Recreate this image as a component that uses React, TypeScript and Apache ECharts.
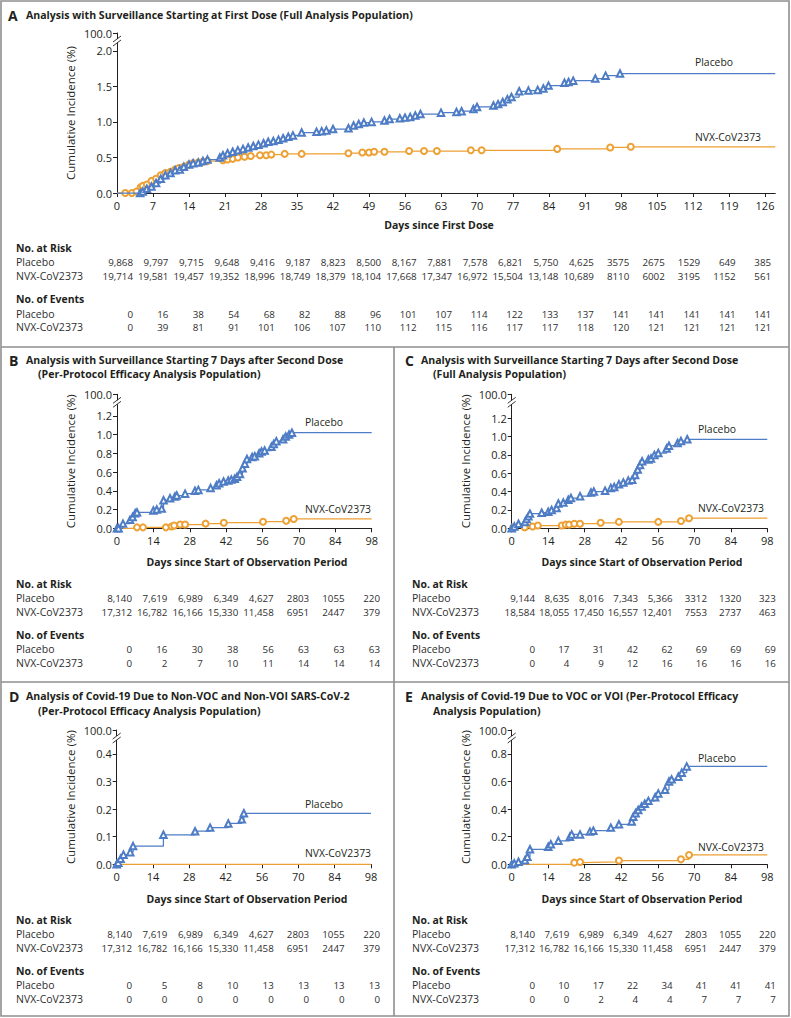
import React, { useEffect, useRef } from "react";
import * as echarts from "echarts";

const FONT = "'Open Sans', 'Noto Sans', 'DejaVu Sans', sans-serif";
const BLUE = "#4e7cc5";
const ORANGE = "#eda033";
const INK = "#231f20";
const TABLE_INK = "#2e2e2e";
const FRAME = "#8f8f8f";
const BREAK_LABEL = "100.0";

// ---------- tick values ----------
const daysA = [0, 7, 14, 21, 28, 35, 42, 49, 56, 63, 70, 77, 84, 91, 98, 105, 112, 119, 126];
const daysObs = [0, 14, 28, 42, 56, 70, 84, 98];
const pctTicksA = [0, 0.5, 1.0, 1.5, 2.0];
const pctTicksBC = [0, 0.2, 0.4, 0.6, 0.8, 1.0, 1.2];
const pctTicksD = [0, 0.1, 0.2, 0.3, 0.4];
const pctTicksE = [0, 0.2, 0.4, 0.6, 0.8];

// ---------- curves: [day, cumulative incidence %] ----------
const curveAPlacebo: number[][] = [
  [0, 0], [4.5, 0], [5, 0.02], [5.8, 0.06], [6.7, 0.09], [7.6, 0.14], [8.5, 0.2], [9.4, 0.25], [10.4, 0.28],
  [11.3, 0.32], [12.2, 0.33], [13, 0.37], [14, 0.4], [14.8, 0.42], [15.8, 0.43], [16.7, 0.45], [17.6, 0.47],
  [20, 0.5], [20.6, 0.53], [21.5, 0.56], [22.5, 0.58], [23.5, 0.6], [24.5, 0.62], [25.5, 0.64], [26.5, 0.66],
  [27.5, 0.68], [28.5, 0.7], [29.4, 0.72], [30.4, 0.73], [31.4, 0.75], [32.3, 0.77], [33.3, 0.79], [34.2, 0.81],
  [35.9, 0.85], [38.8, 0.86], [39.8, 0.87], [40.7, 0.88], [42, 0.9], [45, 0.91], [46, 0.95], [47, 0.97],
  [48, 0.99], [49.5, 1.0], [52, 1.02], [53, 1.04], [55, 1.05], [56, 1.06], [57, 1.07], [58, 1.09], [59, 1.11],
  [63, 1.13], [66, 1.14], [67, 1.15], [69.3, 1.18], [70, 1.21], [73.2, 1.23], [74.1, 1.25], [75, 1.28],
  [75.9, 1.32], [76.7, 1.35], [78.2, 1.43], [80, 1.44], [81.8, 1.45], [82.9, 1.47], [83.9, 1.51], [87, 1.55],
  [87.8, 1.56], [88.7, 1.58], [93, 1.61], [95, 1.65], [97.8, 1.68], [128, 1.68],
];
const curveANvx: number[][] = [
  [0, 0], [1.6, 0], [2.9, 0], [3.8, 0.02], [4.6, 0.08], [5, 0.1], [5.8, 0.12], [6.7, 0.17], [7.6, 0.2],
  [8.5, 0.25], [9.4, 0.28], [10.4, 0.3], [11.3, 0.33], [12, 0.35], [13, 0.37], [14, 0.4], [14.8, 0.42],
  [15.8, 0.43], [16.7, 0.44], [17.6, 0.45], [20.6, 0.46], [21.5, 0.47], [22.5, 0.48], [23.5, 0.5], [24.8, 0.51],
  [26, 0.52], [27.8, 0.53], [29, 0.53], [30, 0.54], [32.6, 0.55], [35.9, 0.55], [45, 0.56], [47.7, 0.57],
  [49, 0.57], [50, 0.58], [52, 0.58], [56.8, 0.59], [59.7, 0.59], [62.2, 0.59], [68.8, 0.6], [70.9, 0.6],
  [85.6, 0.62], [95.9, 0.64], [99.9, 0.65], [128, 0.65],
];
const curveBPlacebo: number[][] = [
  [0, 0], [0.6, 0], [2.3, 0.05], [5, 0.09], [6, 0.12], [7, 0.16], [7.7, 0.17], [14, 0.19], [15.3, 0.2],
  [17.2, 0.21], [17.9, 0.3], [20.4, 0.32], [22.3, 0.34], [23, 0.35], [26.2, 0.37], [30, 0.4], [31.3, 0.41],
  [36, 0.43], [38.3, 0.46], [39.3, 0.48], [41, 0.5], [42.8, 0.51], [44, 0.52], [45.3, 0.53], [46.2, 0.55],
  [47.3, 0.58], [48.3, 0.64], [49.2, 0.69], [50, 0.74], [52, 0.76], [53, 0.77], [54.7, 0.8], [55.6, 0.82],
  [56.8, 0.83], [59.4, 0.87], [60.3, 0.9], [61.3, 0.93], [63.9, 0.95], [64.9, 0.98], [66.2, 1.0], [67.3, 1.02],
  [98, 1.02],
];
const curveBNvx: number[][] = [
  [0, 0], [7.7, 0.01], [10, 0.01], [18.8, 0.01], [21, 0.02], [22, 0.03], [24.3, 0.04], [26.2, 0.04],
  [34.1, 0.05], [41.1, 0.06], [56.2, 0.07], [65.1, 0.08], [68, 0.1], [98, 0.1],
];
const curveCPlacebo: number[][] = [
  [0, 0], [1, 0.02], [2.6, 0.05], [5.1, 0.07], [5.7, 0.1], [6.4, 0.13], [7, 0.16], [11.5, 0.17], [14, 0.18],
  [15.3, 0.2], [17.2, 0.22], [17.9, 0.27], [19.8, 0.28], [21.7, 0.31], [22.7, 0.33], [26.2, 0.35], [30.4, 0.39],
  [31.5, 0.4], [35.8, 0.41], [38, 0.44], [39.3, 0.45], [41.1, 0.48], [42.8, 0.5], [44.7, 0.52], [46.2, 0.53],
  [47.3, 0.58], [48.3, 0.64], [49.2, 0.69], [50, 0.73], [52.4, 0.75], [53.4, 0.76], [54.7, 0.8], [56.2, 0.82],
  [59.4, 0.87], [60.3, 0.9], [63.6, 0.93], [64.9, 0.95], [67.3, 0.97], [98, 0.97],
];
const curveCNvx: number[][] = [
  [0, 0], [0.6, 0.01], [5, 0.01], [8, 0.02], [10, 0.03], [19.2, 0.03], [20.7, 0.04], [22, 0.04], [24, 0.05],
  [26.2, 0.05], [34.1, 0.06], [41.1, 0.07], [56.2, 0.07], [64.9, 0.08], [68, 0.11], [98, 0.11],
];
const curveDPlacebo: number[][] = [
  [0, 0], [0.6, 0.006], [1.5, 0.02], [2.6, 0.035], [5.2, 0.044], [6.3, 0.066], [18, 0.107], [30.2, 0.12],
  [36, 0.133], [43, 0.148], [48.2, 0.163], [49, 0.185], [98, 0.185],
];
const curveDNvx: number[][] = [[0, 0], [98, 0]];
const curveEPlacebo: number[][] = [
  [0, 0], [1, 0.007], [2.6, 0.019], [5.1, 0.03], [6, 0.055], [7, 0.109], [14, 0.128], [15, 0.145],
  [17.9, 0.17], [22.3, 0.2], [23, 0.217], [26.2, 0.217], [30, 0.237], [31.3, 0.244], [38, 0.266], [41.1, 0.29],
  [46, 0.31], [46.6, 0.345], [47.5, 0.37], [48.5, 0.394], [49.8, 0.42], [51, 0.44], [52.4, 0.46], [55, 0.486],
  [56.2, 0.514], [58.8, 0.54], [60.3, 0.6], [61.3, 0.616], [63.9, 0.635], [65.2, 0.664], [67.1, 0.71], [98, 0.71],
];
const curveENvx: number[][] = [
  [0, 0], [24, 0.012], [26.2, 0.017], [41.1, 0.027], [64.9, 0.036], [68, 0.068], [98, 0.068],
];

// ---------- tables ----------
const riskAPlacebo = ["9,868", "9,797", "9,715", "9,648", "9,416", "9,187", "8,823", "8,500", "8,167", "7,881", "7,578", "6,821", "5,750", "4,625", "3575", "2675", "1529", "649", "385"];
const riskANvx = ["19,714", "19,581", "19,457", "19,352", "18,996", "18,749", "18,379", "18,104", "17,668", "17,347", "16,972", "15,504", "13,148", "10,689", "8110", "6002", "3195", "1152", "561"];
const eventsAPlacebo = ["0", "16", "38", "54", "68", "82", "88", "96", "101", "107", "114", "122", "133", "137", "141", "141", "141", "141", "141"];
const eventsANvx = ["0", "39", "81", "91", "101", "106", "107", "110", "112", "115", "116", "117", "117", "118", "120", "121", "121", "121", "121"];

const riskPPPlacebo = ["8,140", "7,619", "6,989", "6,349", "4,627", "2803", "1055", "220"];
const riskPPNvx = ["17,312", "16,782", "16,166", "15,330", "11,458", "6951", "2447", "379"];
const eventsBPlacebo = ["0", "16", "30", "38", "56", "63", "63", "63"];
const eventsBNvx = ["0", "2", "7", "10", "11", "14", "14", "14"];

const riskCPlacebo = ["9,144", "8,635", "8,016", "7,343", "5,366", "3312", "1320", "323"];
const riskCNvx = ["18,584", "18,055", "17,450", "16,557", "12,401", "7553", "2737", "463"];
const eventsCPlacebo = ["0", "17", "31", "42", "62", "69", "69", "69"];
const eventsCNvx = ["0", "4", "9", "12", "16", "16", "16", "16"];

const eventsDPlacebo = ["0", "5", "8", "10", "13", "13", "13", "13"];
const eventsDNvx = ["0", "0", "0", "0", "0", "0", "0", "0"];

const eventsEPlacebo = ["0", "10", "17", "22", "34", "41", "41", "41"];
const eventsENvx = ["0", "0", "2", "4", "4", "7", "7", "7"];

const groupNames = ["Placebo", "NVX-CoV2373"];
const xTitleA = "Days since First Dose";
const xTitleObs = "Days since Start of Observation Period";
const yTitle = "Cumulative Incidence (%)";

// ---------- layout (positions only) ----------
type Panel = {
  letter: string;
  titleLines: string[];
  left: number; top: number; width: number; height: number;
  xMax: number; yMax: number;
  xTicks: number[]; yTicks: number[];
  placebo: number[][]; nvx: number[][];
  placeboOrigin: boolean;
  risk: string[][]; events: string[][];
  tableLeft: number; colRight0: number; colStep: number; rowsY: number[];
  xTitle: string; xTitleCx: number; xTitleY: number;
  labelPlacebo: number[]; labelNvx: number[];
  letterPos: number[]; titlePos: number[][];
  yTitleX: number;
};

const panels: Panel[] = [
  {
    letter: "A",
    titleLines: ["Analysis with Surveillance Starting at First Dose (Full Analysis Population)"],
    left: 117, top: 33, width: 658.3, height: 160, xMax: 128, yMax: 2.25,
    xTicks: daysA, yTicks: pctTicksA, placebo: curveAPlacebo, nvx: curveANvx, placeboOrigin: false,
    risk: [riskAPlacebo, riskANvx], events: [eventsAPlacebo, eventsANvx],
    tableLeft: 16, colRight0: 133, colStep: 35.45, rowsY: [248, 262, 276, 299, 314, 327],
    xTitle: xTitleA, xTitleCx: 439, xTitleY: 225,
    labelPlacebo: [695, 62], labelNvx: [695, 137],
    letterPos: [8, 15], titlePos: [[26, 15]], yTitleX: 70,
  },
  {
    letter: "B",
    titleLines: ["Analysis with Surveillance Starting 7 Days after Second Dose", "(Per-Protocol Efficacy Analysis Population)"],
    left: 117, top: 394.3, width: 254.7, height: 134, xMax: 98, yMax: 1.43,
    xTicks: daysObs, yTicks: pctTicksBC, placebo: curveBPlacebo, nvx: curveBNvx, placeboOrigin: true,
    risk: [riskPPPlacebo, riskPPNvx], events: [eventsBPlacebo, eventsBNvx],
    tableLeft: 16, colRight0: 132, colStep: 35.43, rowsY: [584, 598, 612, 635, 649, 663],
    xTitle: xTitleObs, xTitleCx: 247, xTitleY: 562,
    labelPlacebo: [305, 422], labelNvx: [305, 509],
    letterPos: [9, 360], titlePos: [[26, 360], [38, 374]], yTitleX: 70,
  },
  {
    letter: "C",
    titleLines: ["Analysis with Surveillance Starting 7 Days after Second Dose", "(Full Analysis Population)"],
    left: 511.7, top: 394.3, width: 255.6, height: 134, xMax: 98, yMax: 1.46,
    xTicks: daysObs, yTicks: pctTicksBC, placebo: curveCPlacebo, nvx: curveCNvx, placeboOrigin: true,
    risk: [riskCPlacebo, riskCNvx], events: [eventsCPlacebo, eventsCNvx],
    tableLeft: 412, colRight0: 535, colStep: 34.4, rowsY: [584, 598, 612, 635, 649, 663],
    xTitle: xTitleObs, xTitleCx: 642, xTitleY: 562,
    labelPlacebo: [698, 429], labelNvx: [698, 508],
    letterPos: [405, 360], titlePos: [[421, 360], [433, 374]], yTitleX: 465,
  },
  {
    letter: "D",
    titleLines: ["Analysis of Covid-19 Due to Non-VOC and Non-VOI SARS-CoV-2", "(Per-Protocol Efficacy Analysis Population)"],
    left: 116.7, top: 730, width: 254.3, height: 134.3, xMax: 98, yMax: 0.487,
    xTicks: daysObs, yTicks: pctTicksD, placebo: curveDPlacebo, nvx: curveDNvx, placeboOrigin: true,
    risk: [riskPPPlacebo, riskPPNvx], events: [eventsDPlacebo, eventsDNvx],
    tableLeft: 16, colRight0: 132, colStep: 35.43, rowsY: [920, 934, 948, 971, 985, 999],
    xTitle: xTitleObs, xTitleCx: 247, xTitleY: 899,
    labelPlacebo: [305, 804], labelNvx: [305, 853],
    letterPos: [9, 696], titlePos: [[26, 696], [38, 711]], yTitleX: 70,
  },
  {
    letter: "E",
    titleLines: ["Analysis of Covid-19 Due to VOC or VOI (Per-Protocol Efficacy", "Analysis Population)"],
    left: 511.7, top: 730, width: 255.6, height: 134.3, xMax: 98, yMax: 0.974,
    xTicks: daysObs, yTicks: pctTicksE, placebo: curveEPlacebo, nvx: curveENvx, placeboOrigin: true,
    risk: [riskPPPlacebo, riskPPNvx], events: [eventsEPlacebo, eventsENvx],
    tableLeft: 412, colRight0: 535, colStep: 34.4, rowsY: [920, 934, 948, 971, 985, 999],
    xTitle: xTitleObs, xTitleCx: 642, xTitleY: 899,
    labelPlacebo: [698, 758], labelNvx: [698, 847],
    letterPos: [405, 696], titlePos: [[421, 696], [433, 711]], yTitleX: 465,
  },
];

// ---------- text fitting ----------
let measureCtx: CanvasRenderingContext2D | null = null;
function fitSize(text: string, weight: string, target: number, max: number): number {
  if (!measureCtx) measureCtx = document.createElement("canvas").getContext("2d");
  if (!measureCtx) return max;
  measureCtx.font = `${weight} 100px ${FONT}`;
  const w = measureCtx.measureText(text).width;
  return Math.min(max, (100 * target) / w);
}

function txt(x: number, y: number, text: string, o: any = {}) {
  return {
    type: "text",
    x, y, silent: true, z: 120,
    rotation: o.rotation || 0,
    style: {
      text,
      fontFamily: FONT,
      fontSize: o.size || 11,
      fontWeight: o.weight || "normal",
      fill: o.color || INK,
      align: o.align || "left",
      verticalAlign: "middle",
    },
  };
}

function curveSeries(i: number, pts: number[][], color: string, symbol: string, size: number, name: string, origin: boolean, z: number) {
  const data = pts.map((pt, k) => {
    const hide = k === pts.length - 1 || (k === 0 && !origin);
    return hide ? { value: pt, symbol: "none" } : { value: pt };
  });
  return {
    type: "line",
    name,
    xAxisIndex: i,
    yAxisIndex: i,
    data,
    step: "end",
    symbol,
    symbolSize: size,
    showSymbol: pts.length > 2,
    clip: false,
    silent: true,
    z,
    lineStyle: { color, width: 1.25 },
    itemStyle: { color, borderColor: color, borderWidth: 0.9 },
    emphasis: { disabled: true },
  };
}

function buildOption() {
  const titleSize = (() => {
    const s1 = fitSize(panels[0].titleLines[0], "bold", 382, 13);
    const s2 = fitSize(panels[1].titleLines[0], "bold", 312, 13);
    const s3 = fitSize(panels[3].titleLines[0], "bold", 334, 13);
    return (s1 + s2 + s3) / 3;
  })();
  const xTitleSize = (fitSize(xTitleA, "bold", 111, 13) + fitSize(xTitleObs, "bold", 199, 13)) / 2;
  const headSize = (fitSize("No. at Risk", "bold", 56, 13) + fitSize("No. of Events", "bold", 68, 13)) / 2;
  const yTitleSize = fitSize(yTitle, "normal", 134, 13);
  const groupSize = (fitSize("Placebo", "normal", 37, 12) + fitSize("NVX-CoV2373", "normal", 68, 12)) / 2;
  const rowLabelSize = fitSize("NVX-CoV2373", "normal", 67, 11.5);
  const valueSize = fitSize("19,714", "normal", 30.5, 11);

  const graphic: any[] = [];
  // frame
  graphic.push({ type: "rect", silent: true, z: 130, shape: { x: 1, y: 1, width: 788, height: 1015 }, style: { fill: "none", stroke: FRAME, lineWidth: 1.6 } });
  graphic.push({ type: "line", silent: true, z: 130, shape: { x1: 1, y1: 347, x2: 789, y2: 347 }, style: { stroke: FRAME, lineWidth: 1.6 } });
  graphic.push({ type: "line", silent: true, z: 130, shape: { x1: 1, y1: 682, x2: 789, y2: 682 }, style: { stroke: FRAME, lineWidth: 1.6 } });
  graphic.push({ type: "line", silent: true, z: 130, shape: { x1: 394, y1: 347, x2: 394, y2: 1016 }, style: { stroke: FRAME, lineWidth: 1.6 } });

  panels.forEach((p) => {
    // titles
    graphic.push(txt(p.letterPos[0], p.letterPos[1], p.letter, { size: 14, weight: "bold" }));
    p.titleLines.forEach((line, k) => {
      graphic.push(txt(p.titlePos[k][0], p.titlePos[k][1], line, { size: titleSize, weight: "bold" }));
    });
    // axis titles
    graphic.push(txt(p.xTitleCx, p.xTitleY, p.xTitle, { size: xTitleSize, weight: "bold", align: "center" }));
    graphic.push(txt(p.yTitleX, p.top + p.height / 2, yTitle, { size: yTitleSize, align: "center", rotation: Math.PI / 2 }));
    // axis break marks
    const ax = p.left;
    const b1 = p.top + 6;
    const b2 = p.top + 10;
    graphic.push({ type: "rect", silent: true, z: 110, shape: { x: ax - 2, y: b1, width: 4, height: b2 - b1 }, style: { fill: "#fff" } });
    [b1, b2].forEach((by) => {
      graphic.push({ type: "line", silent: true, z: 111, shape: { x1: ax - 4, y1: by + 3, x2: ax + 4, y2: by - 3 }, style: { stroke: INK, lineWidth: 0.9 } });
    });
    // group labels
    graphic.push(txt(p.labelPlacebo[0], p.labelPlacebo[1], groupNames[0], { size: groupSize }));
    graphic.push(txt(p.labelNvx[0], p.labelNvx[1], groupNames[1], { size: groupSize }));
    // tables
    const [hRisk, r1, r2, hEv, e1, e2] = p.rowsY;
    graphic.push(txt(p.tableLeft, hRisk, "No. at Risk", { size: headSize, weight: "bold" }));
    graphic.push(txt(p.tableLeft, hEv, "No. of Events", { size: headSize, weight: "bold" }));
    const rows: [number, string, string[]][] = [
      [r1, groupNames[0], p.risk[0]],
      [r2, groupNames[1], p.risk[1]],
      [e1, groupNames[0], p.events[0]],
      [e2, groupNames[1], p.events[1]],
    ];
    rows.forEach(([y, label, vals]) => {
      graphic.push(txt(p.tableLeft, y, label, { size: rowLabelSize, color: TABLE_INK }));
      vals.forEach((v, j) => {
        graphic.push(txt(p.colRight0 + j * p.colStep, y, v, { size: valueSize, align: "right", color: TABLE_INK }));
      });
    });
  });

  const axisText = { fontFamily: FONT, fontSize: 11, color: INK };

  return {
    animation: false,
    backgroundColor: "#ffffff",
    grid: panels.map((p) => ({ left: p.left, top: p.top, width: p.width, height: p.height, containLabel: false, outerBoundsMode: "none" })),
    xAxis: panels.map((p, i) => ({
      type: "value",
      gridIndex: i,
      min: 0,
      max: p.xMax,
      axisLine: { show: true, onZero: false, lineStyle: { color: INK, width: 1 } },
      axisTick: { show: true, length: 4, customValues: p.xTicks, lineStyle: { color: INK, width: 1 } },
      axisLabel: { ...axisText, customValues: p.xTicks, margin: 7, formatter: (v: number) => String(v) },
      splitLine: { show: false },
    })),
    yAxis: panels.map((p, i) => {
      const vals = [...p.yTicks, p.yMax];
      return {
        type: "value",
        gridIndex: i,
        min: 0,
        max: p.yMax,
        axisLine: { show: true, onZero: false, lineStyle: { color: INK, width: 1 } },
        axisTick: { show: true, length: 4, customValues: vals, lineStyle: { color: INK, width: 1 } },
        axisLabel: {
          ...axisText,
          customValues: vals,
          margin: 5,
          formatter: (v: number) => (Math.abs(v - p.yMax) < 1e-6 ? BREAK_LABEL : v.toFixed(1)),
        },
        splitLine: { show: false },
      };
    }),
    series: panels.flatMap((p, i) => [
      curveSeries(i, p.nvx, ORANGE, "emptyCircle", 6, groupNames[1], false, 3),
      curveSeries(i, p.placebo, BLUE, "emptyTriangle", 6.5, groupNames[0], p.placeboOrigin, 4),
    ]),
    graphic,
  };
}

export default function App() {
  const ref = useRef<HTMLDivElement>(null);
  useEffect(() => {
    if (!ref.current) return;
    const chart = echarts.init(ref.current, null, { renderer: "svg" });
    chart.setOption(buildOption() as any);
    return () => chart.dispose();
  }, []);
  return (
    <div
      ref={ref}
      style={{ position: "absolute", left: 0, top: 0, width: 791, height: 1018, background: "#fff" }}
    />
  );
}
